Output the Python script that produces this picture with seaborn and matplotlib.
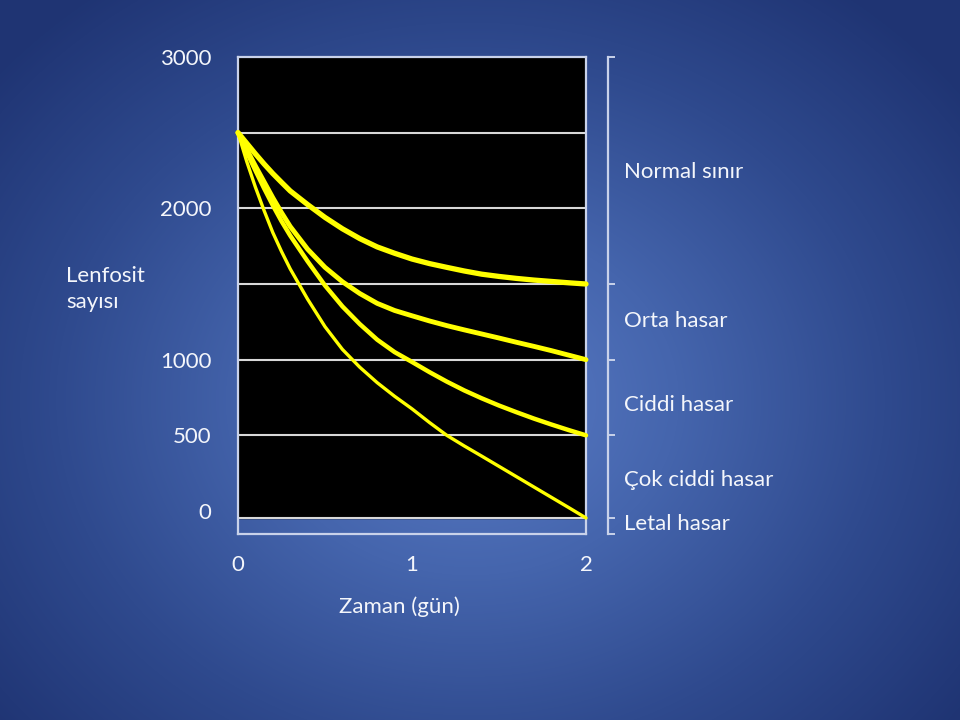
import numpy as np
import pandas as pd
import matplotlib
matplotlib.use("Agg")
import matplotlib.pyplot as plt
from matplotlib.colors import LinearSegmentedColormap
import seaborn as sns

# ---- data ----
gun = [0, 0.05, 0.1, 0.15, 0.2, 0.25, 0.3, 0.4, 0.5, 0.6, 0.7, 0.8, 0.9, 1.0,
       1.1, 1.2, 1.3, 1.4, 1.5, 1.6, 1.7, 1.8, 1.9, 2.0]
seri_1 = [2500, 2430, 2360, 2293, 2230, 2172, 2115, 2025, 1940, 1865, 1800, 1745,
          1703, 1665, 1635, 1610, 1586, 1565, 1550, 1537, 1526, 1517, 1508, 1500]
seri_2 = [2500, 2390, 2280, 2175, 2070, 1972, 1880, 1730, 1610, 1515, 1437, 1372,
          1325, 1290, 1256, 1225, 1197, 1170, 1143, 1115, 1088, 1060, 1030, 1000]
seri_3 = [2500, 2372, 2250, 2132, 2020, 1915, 1820, 1650, 1490, 1352, 1235, 1132,
          1050, 985, 918, 855, 797, 745, 697, 653, 611, 572, 535, 500]
seri_4 = [2500, 2310, 2140, 1985, 1840, 1715, 1600, 1400, 1218, 1068, 950, 848,
          758, 675, 585, 500, 430, 363, 295, 227, 159, 91, 23, -46]
seri_names = ["1", "2", "3", "4"]

ytick_values = [0, 500, 1000, 2000, 3000]
ytick_labels = ["0", "500", "1000", "2000", "3000"]
grid_levels = [-46, 500, 1000, 1500, 2000, 2500]
box_bottom = -46
xtick_values = [0, 1, 2]
xtick_labels = ["0", "1", "2"]

region_bounds = [3000, 1500, 1000, 500, -46, -152]
region_labels = ["Normal sınır", "Orta hasar", "Ciddi hasar", "Çok ciddi hasar", "Letal hasar"]
region_label_pos = [2255, 1270, 714, 218, -73]

x_label = "Zaman (gün)"
y_label = "Lenfosit\nsayısı"

# ---- style ----
sns.set_theme(style="dark")
plt.rcParams["font.family"] = ["Lato", "DejaVu Sans"]
TXT = "#f4f6fb"
LINE = "#c9d2ea"
FS = 16

fig = plt.figure(figsize=(9.6, 7.2), dpi=100)

# background radial gradient
bg = fig.add_axes([0, 0, 1, 1], zorder=-10)
yy, xx = np.mgrid[0:720, 0:960]
r = np.sqrt(((xx - 470) / 620.0) ** 2 + ((yy - 400) / 520.0) ** 2)
cmap = LinearSegmentedColormap.from_list("bg", ["#5a7cc6", "#4565ad", "#2f4a8e", "#1f3473"])
bg.imshow(np.clip(r, 0, 1), cmap=cmap, aspect="auto", vmin=0, vmax=1)
bg.set_axis_off()

ax = fig.add_axes([238 / 960, 1 - 534 / 720, 348 / 960, 477 / 720])
ax.set_facecolor("none")
ax.set_xlim(0, 2)
ax.set_ylim(-152, 3000)
ax.axhspan(box_bottom, 3000, color="black", zorder=0)
ax.hlines(grid_levels, 0, 2, colors="#d8d8d8", linewidth=1.5, zorder=1)

df = pd.DataFrame({
    "gun": gun * 4,
    "sayi": seri_1 + seri_2 + seri_3 + seri_4,
    "seri": sum([[n] * len(gun) for n in seri_names], []),
})
sns.lineplot(data=df, x="gun", y="sayi", hue="seri", size="seri",
             palette=["#ffff00"] * 4,
             sizes={"1": 3.8, "2": 3.5, "3": 3.2, "4": 2.4},
             legend=False, ax=ax, zorder=3, clip_on=False)
for ln in ax.lines:
    ln.set_solid_joinstyle("round")
    ln.set_solid_capstyle("round")

for s in ax.spines.values():
    s.set_color(LINE)
    s.set_linewidth(1.6)
    s.set_visible(True)

ax.grid(False)
ax.set_yticks(ytick_values)
ax.set_yticklabels(ytick_labels)
ax.set_xticks(xtick_values)
ax.set_xticklabels(xtick_labels)
ax.tick_params(axis="y", length=0, pad=19, labelsize=FS, labelcolor=TXT)
ax.tick_params(axis="x", length=0, pad=15, labelsize=FS, labelcolor=TXT)

ax.set_xlabel(x_label, fontsize=FS, color=TXT)
ax.xaxis.set_label_coords(0.463, -0.13)
ax.set_ylabel(y_label, fontsize=FS, color=TXT, rotation=0, ha="left", va="center",
              multialignment="left", linespacing=1.4)
ax.yaxis.set_label_coords(-0.494, 0.514)

# right bracket with damage regions
ax2 = ax.twinx()
ax2.set_ylim(ax.get_ylim())
ax2.grid(False)
for k in ["top", "bottom", "left"]:
    ax2.spines[k].set_visible(False)
ax2.spines["right"].set_position(("outward", 16))
ax2.spines["right"].set_color(LINE)
ax2.spines["right"].set_linewidth(1.6)
ax2.set_yticks(region_bounds)
ax2.set_yticklabels([])
ax2.set_yticks(region_label_pos, minor=True)
ax2.set_yticklabels(region_labels, minor=True)
ax2.tick_params(axis="y", which="major", length=5, width=1.4, color=LINE, direction="out")
ax2.tick_params(axis="y", which="minor", length=0, pad=11, labelsize=FS, labelcolor=TXT)

fig.savefig("out.png", dpi=100)
